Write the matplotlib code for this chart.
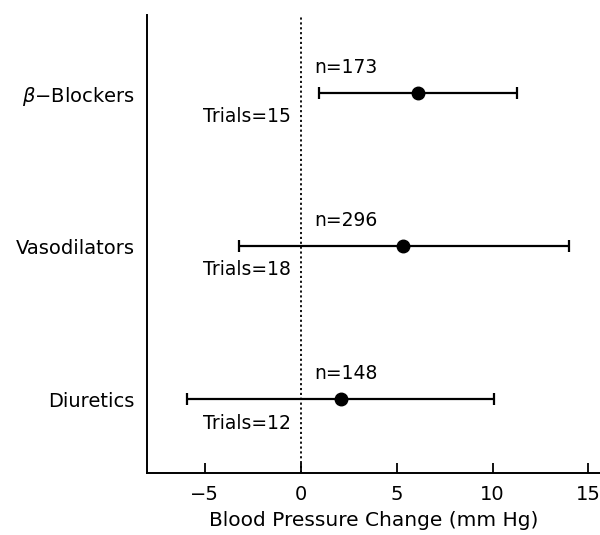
import matplotlib
matplotlib.use("Agg")
import matplotlib.pyplot as plt

# values
categories = ["Diuretics", "Vasodilators", r"$\beta$−Blockers"]
means = [2.1, 5.35, 6.1]
lower = [-5.9, -3.2, 0.95]
upper = [10.1, 14.0, 11.3]
n_patients = [148, 296, 173]
n_trials = [12, 18, 15]
xticks = [-5, 0, 5, 10, 15]

plt.rcParams["font.family"] = ["DejaVu Sans"]
plt.rcParams["mathtext.fontset"] = "dejavusans"

fig = plt.figure(figsize=(6, 5.35), dpi=100)
ax = fig.add_axes([0.245, 0.116, 0.755, 0.856])

ys = list(range(1, len(categories) + 1))
xerr = [[m - lo for m, lo in zip(means, lower)], [hi - m for m, hi in zip(means, upper)]]
ax.errorbar(means, ys, xerr=xerr, fmt="o", color="black", ms=9, lw=1.6,
            capsize=4, capthick=1.6)
ax.axvline(0, color="black", ls=(0, (1.2, 1.5)), lw=1.3)

for y, n, t in zip(ys, n_patients, n_trials):
    ax.text(0.7, y + 0.17, f"n={n}", ha="left", va="center", fontsize=13.5)
    ax.text(-0.5, y - 0.155, f"Trials={t}", ha="right", va="center", fontsize=13.5)

ax.set_xlim(-8, 15.6); ax.set_ylim(0.52, 3.51)
ax.set_xticks(xticks); ax.set_xticklabels([f"{v}".replace("-", "−") for v in xticks])
ax.set_yticks(ys); ax.set_yticklabels(categories)
ax.tick_params(axis="x", direction="in", length=7, width=1.3, pad=9, labelsize=14)
ax.tick_params(axis="y", length=0, pad=9, labelsize=14)
for s in ["top", "right"]:
    ax.spines[s].set_visible(False)
for s in ["left", "bottom"]:
    ax.spines[s].set_linewidth(1.4)
ax.set_xlabel("Blood Pressure Change (mm Hg)", fontsize=14.5, labelpad=5)

plt.savefig("out.png", dpi=100)
plt.close()
